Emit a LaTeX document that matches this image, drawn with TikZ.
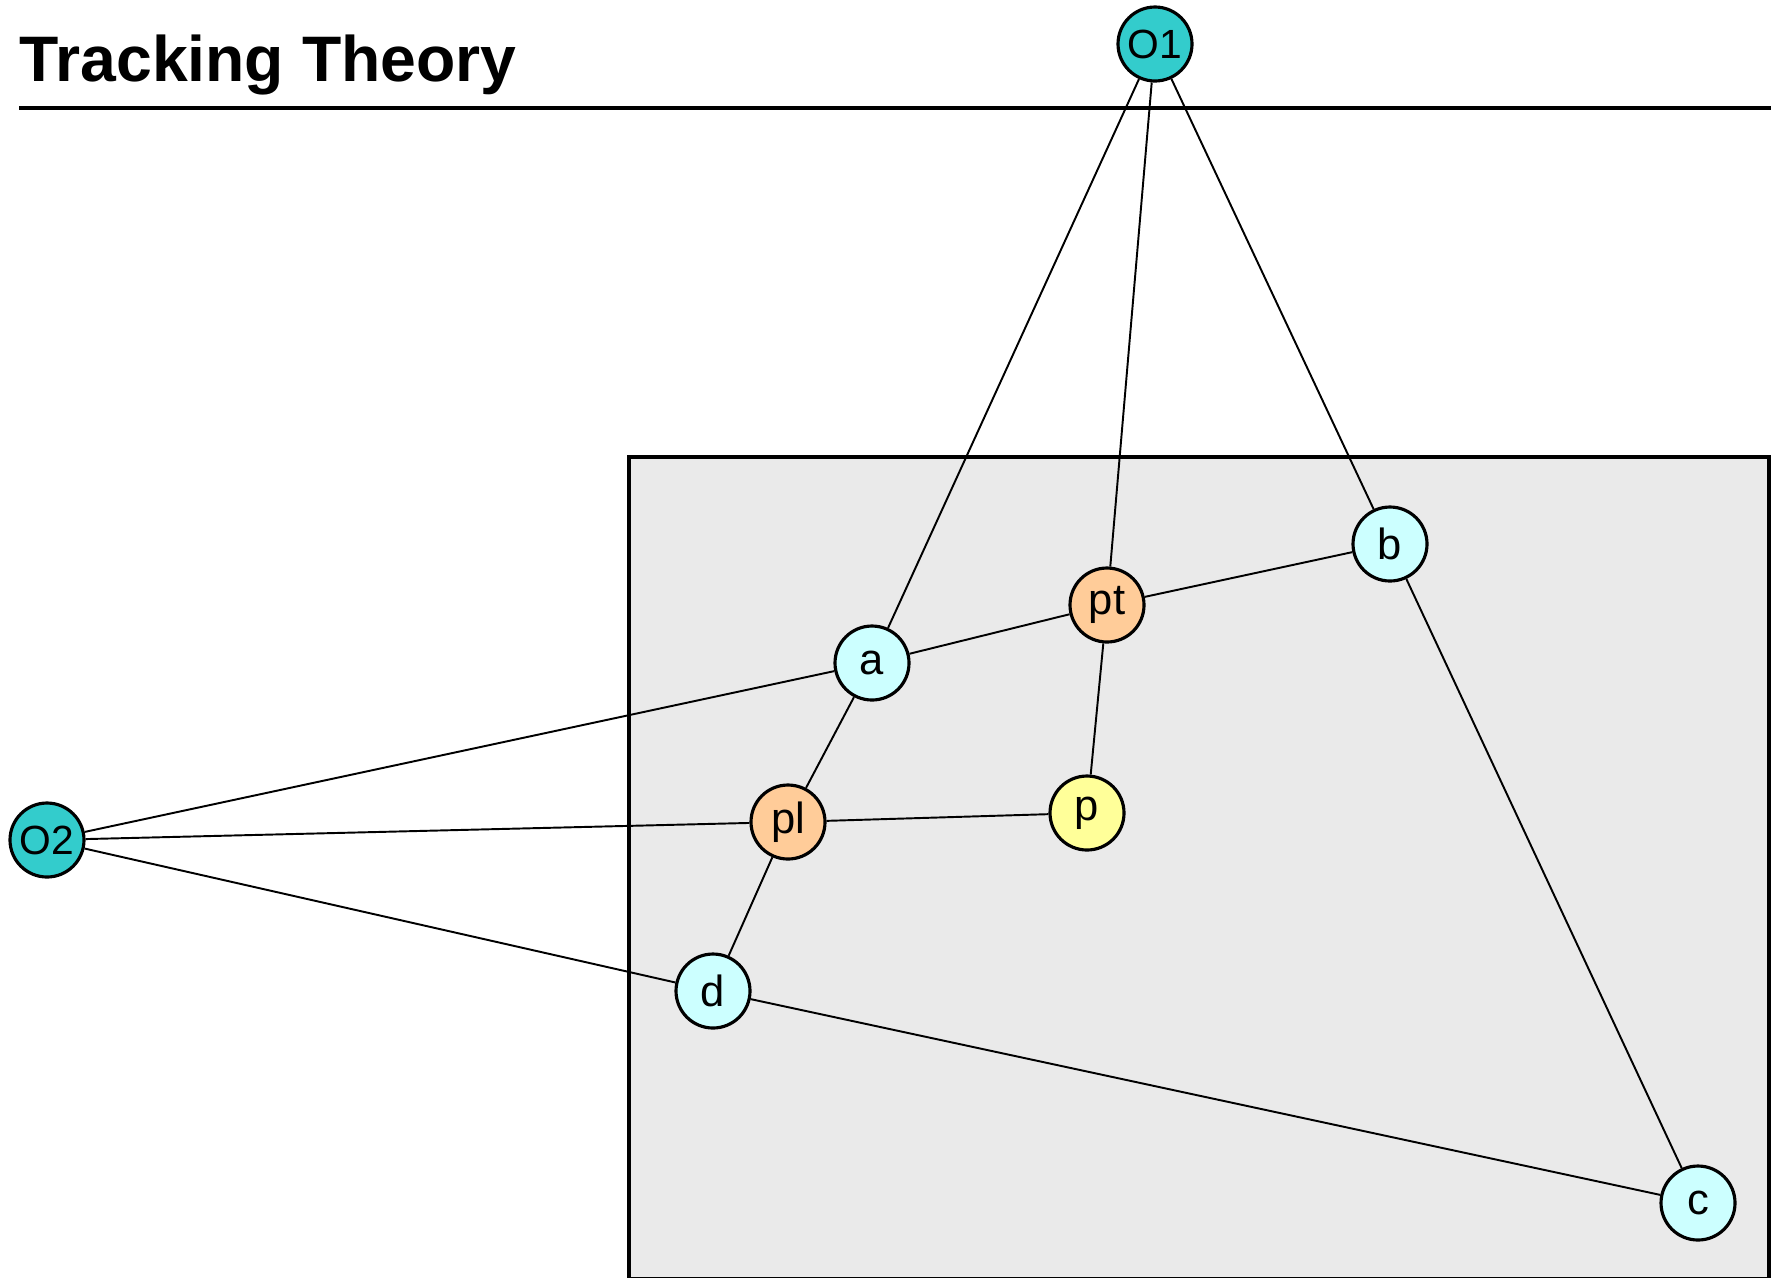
\documentclass[tikz,border=0pt]{standalone}
\usepackage{fontspec}
\setmainfont{Liberation Sans}
\usepackage{tikz}

\definecolor{camcol}{HTML}{33CCCC}
\definecolor{ptcol}{HTML}{CCFFFF}
\definecolor{projcol}{HTML}{FFCC99}
\definecolor{pcol}{HTML}{FFFF99}
\definecolor{planecol}{HTML}{EAEAEA}

\begin{document}
\begin{tikzpicture}[x=0.1mm, y=-0.1mm, every node/.style={font=\fontsize{12.4}{14}\selectfont},
	dot/.style={circle, draw, line width=0.9pt, minimum size=7.4mm, inner sep=0pt},
	cam/.style={dot, fill=camcol, font=\fontsize{11.6}{13}\selectfont}, corner/.style={dot, fill=ptcol},
	proj/.style={dot, fill=projcol}, target/.style={dot, fill=pcol},
	ray/.style={line width=0.55pt}]
	\useasboundingbox (0,0) rectangle (1771,1277);
	\node[anchor=base west, inner sep=0pt, font=\fontsize{18.3}{22}\selectfont\bfseries] (title) at (19,81) {Tracking Theory};
	\draw[line width=1.2pt] (19,108) -- (1771,108);
	\draw[line width=1.4pt, fill=planecol] (629,457) rectangle (1769,1279);
	\node[cam] (O1) at (1155,44) {O1};
	\node[cam] (O2) at (47,840) {O2};
	\node[corner] (a) at (872,663) {a};
	\node[corner] (b) at (1390,544) {b};
	\node[corner] (c) at (1698,1203) {c};
	\node[corner] (d) at (713,991) {d};
	\node[proj] (pt) at (1107,605) {pt};
	\node[proj] (pl) at (788,822) {pl};
	\node[target] (p) at (1087,813) {p};
	\draw[ray] (O1) -- (a);
	\draw[ray] (O1) -- (pt);
	\draw[ray] (O1) -- (b);
	\draw[ray] (O2) -- (a);
	\draw[ray] (O2) -- (pl);
	\draw[ray] (O2) -- (d);
	\draw[ray] (a) -- (pt) -- (b) -- (c) -- (d) -- (pl) -- (a);
	\draw[ray] (pt) -- (p) -- (pl);
\end{tikzpicture}
\end{document}
